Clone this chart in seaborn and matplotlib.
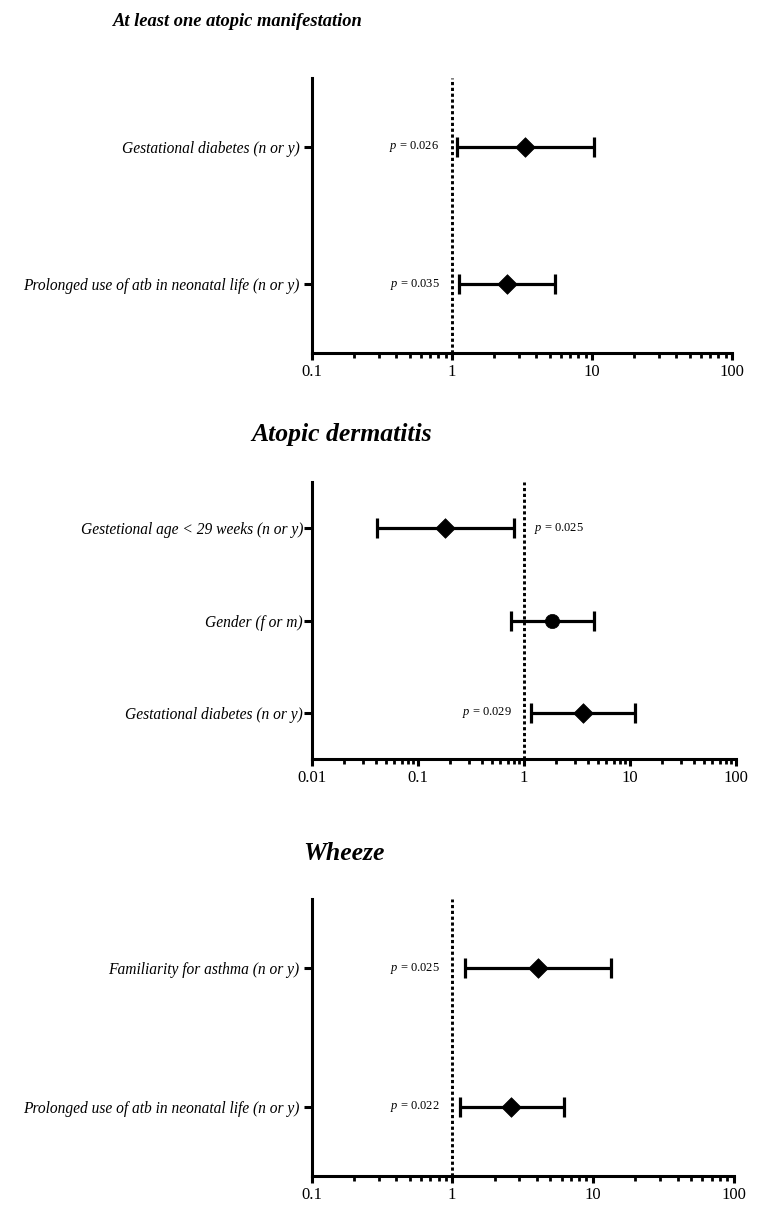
import matplotlib
matplotlib.use("Agg")
import matplotlib.pyplot as plt
from matplotlib.ticker import FuncFormatter, NullFormatter, LogLocator
import numpy as np
import pandas as pd
import seaborn as sns

# --- data (odds ratio, 95% CI, p) ---
atopy_labels = ["Gestational diabetes (n or y)",
                "Prolonged use of atb in neonatal life (n or y)"]
atopy_or = [3.34, 2.47]
atopy_lo = [1.09, 1.12]
atopy_hi = [10.3, 5.47]
atopy_p = ["0.026", "0.035"]
atopy_shape = ["diamond", "diamond"]

derm_labels = ["Gestetional age < 29 weeks (n or y)",
               "Gender (f or m)",
               "Gestational diabetes (n or y)"]
derm_or = [0.18, 1.85, 3.58]
derm_lo = [0.041, 0.76, 1.16]
derm_hi = [0.81, 4.57, 11.1]
derm_p = ["0.025", None, "0.029"]
derm_shape = ["diamond", "circle", "diamond"]

wheeze_labels = ["Familiarity for asthma (n or y)",
                 "Prolonged use of atb in neonatal life (n or y)"]
wheeze_or = [4.06, 2.64]
wheeze_lo = [1.23, 1.13]
wheeze_hi = [13.4, 6.2]
wheeze_p = ["0.025", "0.022"]
wheeze_shape = ["diamond", "diamond"]

sns.set_style("ticks", {"axes.edgecolor": "black", "text.color": "black",
                        "xtick.color": "black", "ytick.color": "black"})
plt.rcParams["font.family"] = ["Liberation Serif", "DejaVu Serif"]
plt.rcParams["mathtext.fontset"] = "custom"
plt.rcParams["mathtext.it"] = "Liberation Serif:italic"
plt.rcParams["mathtext.rm"] = "Liberation Serif"

W, H = 767, 1221
fig = plt.figure(figsize=(W / 100, H / 100), dpi=100)


def px_axes(left, right, top, bottom):
    return fig.add_axes([left / W, 1 - bottom / H, (right - left) / W, (bottom - top) / H])


def forest(ax, labels, ors, lo, hi, pvals, shapes, xmin, p_side, ypad):
    df = pd.DataFrame({"label": labels, "or": ors, "lo": lo, "hi": hi,
                       "p": pvals, "shape": shapes})
    df["row"] = np.arange(len(df))
    ax.errorbar(df["or"], df["row"], xerr=[df["or"] - df["lo"], df["hi"] - df["or"]],
                fmt="none", ecolor="black", elinewidth=2.3, capsize=7.2,
                capthick=2.3, zorder=3)
    sizes = {"diamond": 100, "circle": 105}
    for shp, mk in [("diamond", "D"), ("circle", "o")]:
        sub = df[df["shape"] == shp]
        if len(sub):
            sns.scatterplot(data=sub, x="or", y="row", marker=mk, s=sizes[shp],
                            color="black", edgecolor="black", linewidth=0.5,
                            ax=ax, zorder=4, legend=False)
    ax.axvline(1, color="black", lw=2.1, linestyle=(0, (1.1, 0.9)), zorder=2)

    for i, p in enumerate(pvals):
        if p is None:
            continue
        side = p_side[i]
        off = -9 if side == "left" else 7
        ax.annotate(f"$p$ = {p}", xy=(1, i), xytext=(off, 0),
                    textcoords="offset points", fontsize=9, color="black",
                    ha="right" if side == "left" else "left", va="center")

    ax.set_xscale("log")
    ax.set_xlim(xmin, 100)
    ax.set_ylim(len(df) - 0.5, -0.5)
    ax.set_yticks(df["row"], labels, fontstyle="italic", fontsize=11.2)
    ax.xaxis.set_major_locator(LogLocator(base=10, numticks=10))
    ax.xaxis.set_minor_locator(LogLocator(base=10, subs=np.arange(2, 10), numticks=10))
    ax.xaxis.set_major_formatter(FuncFormatter(lambda v, _: f"{v:g}"))
    ax.xaxis.set_minor_formatter(NullFormatter())
    ax.tick_params(axis="x", which="major", length=5, width=2.2, labelsize=12,
                   pad=3, direction="out")
    ax.tick_params(axis="x", which="minor", length=3.5, width=2.0, direction="out")
    ax.tick_params(axis="y", length=6, width=2.2, pad=ypad)
    ax.set_xlabel("")
    ax.set_ylabel("")
    sns.despine(ax=ax)
    for s in ["left", "bottom"]:
        ax.spines[s].set_linewidth(2.2)
    ax.set_facecolor("white")


ax1 = px_axes(312, 732, 78, 353)
forest(ax1, atopy_labels, atopy_or, atopy_lo, atopy_hi, atopy_p, atopy_shape,
       0.1, ["left", "left"], 3)

ax2 = px_axes(312, 736, 482, 759)
forest(ax2, derm_labels, derm_or, derm_lo, derm_hi, derm_p, derm_shape,
       0.01, ["right", None, "left"], 0.5)

ax3 = px_axes(311.5, 733.5, 899, 1176)
forest(ax3, wheeze_labels, wheeze_or, wheeze_lo, wheeze_hi, wheeze_p, wheeze_shape,
       0.1, ["left", "left"], 3)

fig.text(238 / W, 1 - 22 / H, "At least one atopic manifestation", ha="center",
         va="center", fontsize=13.3, fontweight="bold", fontstyle="italic")
fig.text(342 / W, 1 - 435 / H, "Atopic dermatitis", ha="center",
         va="center", fontsize=18.5, fontweight="bold", fontstyle="italic")
fig.text(344 / W, 1 - 853 / H, "Wheeze", ha="center",
         va="center", fontsize=18.5, fontweight="bold", fontstyle="italic")

fig.savefig("out.png", dpi=100, facecolor="white")
